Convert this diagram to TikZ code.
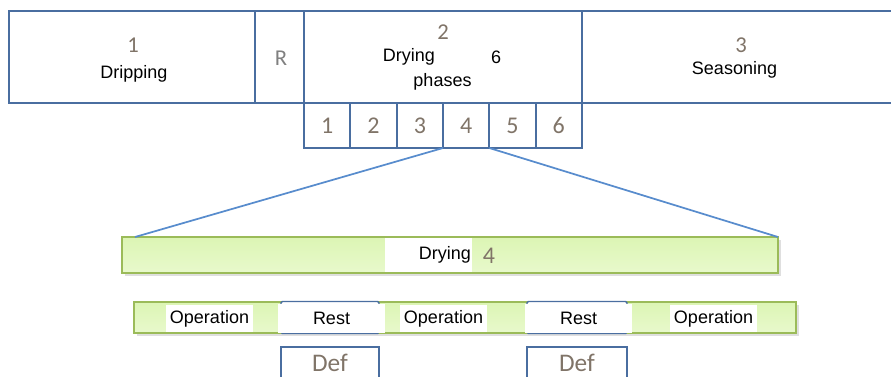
\documentclass[tikz,border=0pt]{standalone}
\usepackage{fontspec}
\setmainfont{Liberation Sans}
\newfontfamily\numfont{Carlito}
\usepackage{xcolor}
\usetikzlibrary{shadows}

\definecolor{frameblue}{RGB}{74,110,160}
\definecolor{lineblue}{RGB}{88,140,205}
\definecolor{numgray}{RGB}{128,116,104}
\definecolor{barborder}{RGB}{155,187,89}
\definecolor{bartop}{RGB}{232,249,204}
\definecolor{barbot}{RGB}{220,245,180}

\begin{document}
\begin{tikzpicture}[x=0.75pt,y=0.75pt,yscale=-1,xscale=1,
  boxwh/.style 2 args={minimum width=#1*0.75pt,minimum height=#2*0.75pt,inner sep=0pt,outer sep=0pt},
  frame/.style={draw=frameblue,line width=1.5pt},
  num/.style={text=numgray,font=\numfont\fontsize{17}{20}\selectfont},
  word/.style={font=\fontsize{13.5}{15}\selectfont},
  bar/.style={draw=barborder,line width=1.8pt,top color=barbot,bottom color=bartop,
    drop shadow={opacity=0.25,shadow xshift=2pt,shadow yshift=-2.5pt}},
  whitetag/.style={fill=white,inner sep=0pt,font=\fontsize{13.5}{15}\selectfont},
  zoomline/.style={draw=lineblue,line width=1.3pt}]

\useasboundingbox (0,0) rectangle (891,376);

% top row
\node[frame,boxwh={246}{92}] (drip) at (132,57) {};

\node[frame,boxwh={49}{92}] (rbox) at (279.5,57) {};

\node[frame,boxwh={278}{92}] (drybox) at (443,57) {};

\node[boxwh={309}{92}] (seas) at (736.5,57) {};

\draw[frame] (seas.north west) -- (seas.north east) (seas.south west) -- (seas.south east);

\node[num] (n1) at (133,45) {1};
\node[word] (dript) at (134,74) {Dripping};
\node[num,text=gray] (rt) at (281,58) {R};
\node[num] (n2) at (443,32) {2};
\node[word] (dryt) at (409,57) {Drying};
\node[word] (sixt) at (496,57) {6};
\node[word] (phaset) at (442.5,82) {phases};
\node[num] (n3) at (741,45) {3};
\node[word] (seast) at (734.5,70) {Seasoning};

% phase cells
\foreach \i in {1,...,6}
  \node[frame,num,font=\numfont\fontsize{18}{20}\selectfont,boxwh={46.33}{45}] (c\i) at ({304+46.33*(\i-0.5)},125.5) {\i};

% drying phase 4
\node[bar,boxwh={656}{36}] (dbar) at (450,255) {};

\node[whitetag,boxwh={87}{34},text width=85*0.75pt,align=right] (dlbl) at (428.5,255) {Drying};
\node[num,font=\numfont\fontsize{18}{20}\selectfont] (d4) at (489,256) {4};

\draw[zoomline] (c4.south west) -- ([xshift=13*0.75pt]dbar.north west);
\draw[zoomline] (c5.south west) -- (dbar.north east);

% operation / rest
\node[bar,boxwh={662}{31}] (obar) at (465,317.5) {};

\node[draw=frameblue,line width=1.1pt,fill=white,rounded corners=1pt,boxwh={98}{32}] (rest1) at (330,317.5) {};
\node[draw=frameblue,line width=1.1pt,fill=white,rounded corners=1pt,boxwh={100}{32}] (rest2) at (577,317.5) {};

\node[whitetag,boxwh={87}{27}] (op1) at (209.5,318.5) {Operation};
\node[whitetag,boxwh={107}{29}] (rl1) at (331.5,318.5) {Rest};
\node[whitetag,boxwh={87}{27}] (op2) at (443.5,318.5) {Operation};
\node[whitetag,boxwh={107}{29}] (rl2) at (578.5,318.5) {Rest};
\node[whitetag,boxwh={87}{27}] (op3) at (713.5,318.5) {Operation};

% defrost boxes
\node[num,font=\numfont\fontsize{19}{22}\selectfont,boxwh={98}{32}] (def1) at (330,363) {Def};
\node[num,font=\numfont\fontsize{19}{22}\selectfont,boxwh={100}{32}] (def2) at (577,363) {Def};

\draw[frame] (def1.south west) -- (def1.north west) -- (def1.north east) -- (def1.south east);
\draw[frame] (def2.south west) -- (def2.north west) -- (def2.north east) -- (def2.south east);

\end{tikzpicture}
\end{document}
